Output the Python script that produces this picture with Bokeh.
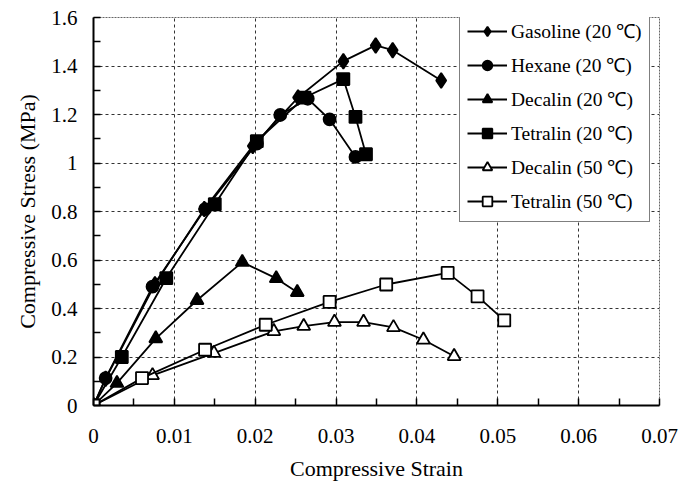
from bokeh.plotting import figure
from bokeh.embed import file_html
from bokeh.resources import INLINE
from bokeh.models import Range1d, FixedTicker, Legend, LegendItem

# ---- data ----
gas_x = [0.0, 0.0015, 0.0076, 0.0137, 0.0197, 0.0253, 0.0309, 0.0349, 0.0370, 0.0430]
gas_y = [0.0, 0.11, 0.50, 0.81, 1.07, 1.27, 1.42, 1.485, 1.465, 1.34]

hex_x = [0.0, 0.0015, 0.0073, 0.0138, 0.0202, 0.0231, 0.0265, 0.0292, 0.0324]
hex_y = [0.0, 0.113, 0.49, 0.81, 1.08, 1.198, 1.265, 1.18, 1.025]

dec20_x = [0.0, 0.0029, 0.0077, 0.0128, 0.0184, 0.0226, 0.0252]
dec20_y = [0.0, 0.092, 0.276, 0.434, 0.591, 0.524, 0.467]

tet20_x = [0.0, 0.0035, 0.0090, 0.0150, 0.0202, 0.0261, 0.0309, 0.0324, 0.0337]
tet20_y = [0.0, 0.20, 0.525, 0.83, 1.09, 1.27, 1.346, 1.19, 1.036]

dec50_x = [0.0, 0.0073, 0.0149, 0.0223, 0.0260, 0.0298, 0.0334, 0.0371, 0.0408, 0.0446]
dec50_y = [0.0, 0.124, 0.216, 0.306, 0.327, 0.344, 0.344, 0.322, 0.271, 0.203]

tet50_x = [0.0, 0.0060, 0.0138, 0.0213, 0.0292, 0.0362, 0.0438, 0.0475, 0.0508]
tet50_y = [0.0, 0.113, 0.23, 0.333, 0.427, 0.499, 0.547, 0.45, 0.351]

labels = ["Gasoline (20 \u2103)", "Hexane (20 \u2103)", "Decalin (20 \u2103)",
          "Tetralin (20 \u2103)", "Decalin (50 \u2103)", "Tetralin (50 \u2103)"]

x_ticks = [0.0, 0.01, 0.02, 0.03, 0.04, 0.05, 0.06, 0.07]
x_tick_labels = ["0", "0.01", "0.02", "0.03", "0.04", "0.05", "0.06", "0.07"]
x_minor = [0.005, 0.015, 0.025, 0.035, 0.045, 0.055, 0.065]
y_ticks = [0.0, 0.2, 0.4, 0.6, 0.8, 1.0, 1.2, 1.4, 1.6]
y_tick_labels = ["0", "0.2", "0.4", "0.6", "0.8", "1", "1.2", "1.4", "1.6"]
y_minor = [0.1, 0.3, 0.5, 0.7, 0.9, 1.1, 1.3, 1.5]

FONT = "Liberation Serif"

p = figure(width=690, height=492, output_backend="svg", toolbar_location=None,
           x_range=Range1d(0, 0.07), y_range=Range1d(0, 1.6),
           min_border_left=93, min_border_right=31, min_border_top=17, min_border_bottom=87)
p.background_fill_color = "white"
p.border_fill_color = "white"
p.outline_line_color = "#666666"
p.outline_line_dash = "2 1"
p.outline_line_width = 1

for ax, ticks, minor, lbls in ((p.xaxis[0], x_ticks, x_minor, x_tick_labels),
                                (p.yaxis[0], y_ticks, y_minor, y_tick_labels)):
    ax.ticker = FixedTicker(ticks=ticks, minor_ticks=minor)
    ax.major_label_overrides = {t: l for t, l in zip(ticks, lbls)}
    ax.axis_line_width = 2
    ax.axis_line_color = "black"
    ax.major_tick_in = 7
    ax.major_tick_out = 0
    ax.minor_tick_in = 7
    ax.minor_tick_out = 0
    ax.major_tick_line_width = 1.5
    ax.minor_tick_line_width = 1.5
    ax.major_tick_line_color = "black"
    ax.minor_tick_line_color = "black"
    ax.major_label_text_font = FONT
    ax.major_label_text_font_size = "21px"
    ax.major_label_text_color = "black"
    ax.axis_label_text_font = FONT
    ax.axis_label_text_font_size = "22px"
    ax.axis_label_text_font_style = "normal"
    ax.axis_label_text_color = "black"

p.xaxis.axis_label = "Compressive Strain"
p.yaxis.axis_label = "Compressive Stress (MPa)"
p.xaxis.major_label_standoff = 23
p.xaxis.axis_label_standoff = 10
p.yaxis.major_label_standoff = 16
p.yaxis.axis_label_standoff = 8

for g in (p.xgrid[0], p.ygrid[0]):
    g.grid_line_color = "#333333"
    g.grid_line_dash = "3 3"
    g.grid_line_width = 1

series = [
    (gas_x, gas_y, "diamond", 15, "black"),
    (hex_x, hex_y, "circle", 12, "black"),
    (dec20_x, dec20_y, "triangle", 13, "black"),
    (tet20_x, tet20_y, "square", 12, "black"),
    (dec50_x, dec50_y, "triangle", 13, "white"),
    (tet50_x, tet50_y, "square", 12, "white"),
]

items = []
for (xs, ys, mk, sz, fill), lab in zip(series, labels):
    r1 = p.line(xs, ys, line_color="black", line_width=1.8)
    r2 = p.scatter(xs, ys, marker=mk, size=sz, fill_color=fill,
                   line_color="black", line_width=1.8)
    items.append(LegendItem(label=lab, renderers=[r1, r2]))

legend = Legend(items=items, location=(366, 183))
legend.label_text_font = FONT
legend.label_text_font_size = "19.5px"
legend.label_text_color = "black"
legend.glyph_width = 40
legend.glyph_height = 24
legend.label_height = 24
legend.spacing = 7
legend.padding = 7
legend.margin = 0
legend.label_standoff = 4
legend.border_line_color = "black"
legend.border_line_width = 1.5
legend.background_fill_color = "white"
legend.background_fill_alpha = 1
p.add_layout(legend, "center")

open("out.html", "w").write(file_html(p, INLINE))
